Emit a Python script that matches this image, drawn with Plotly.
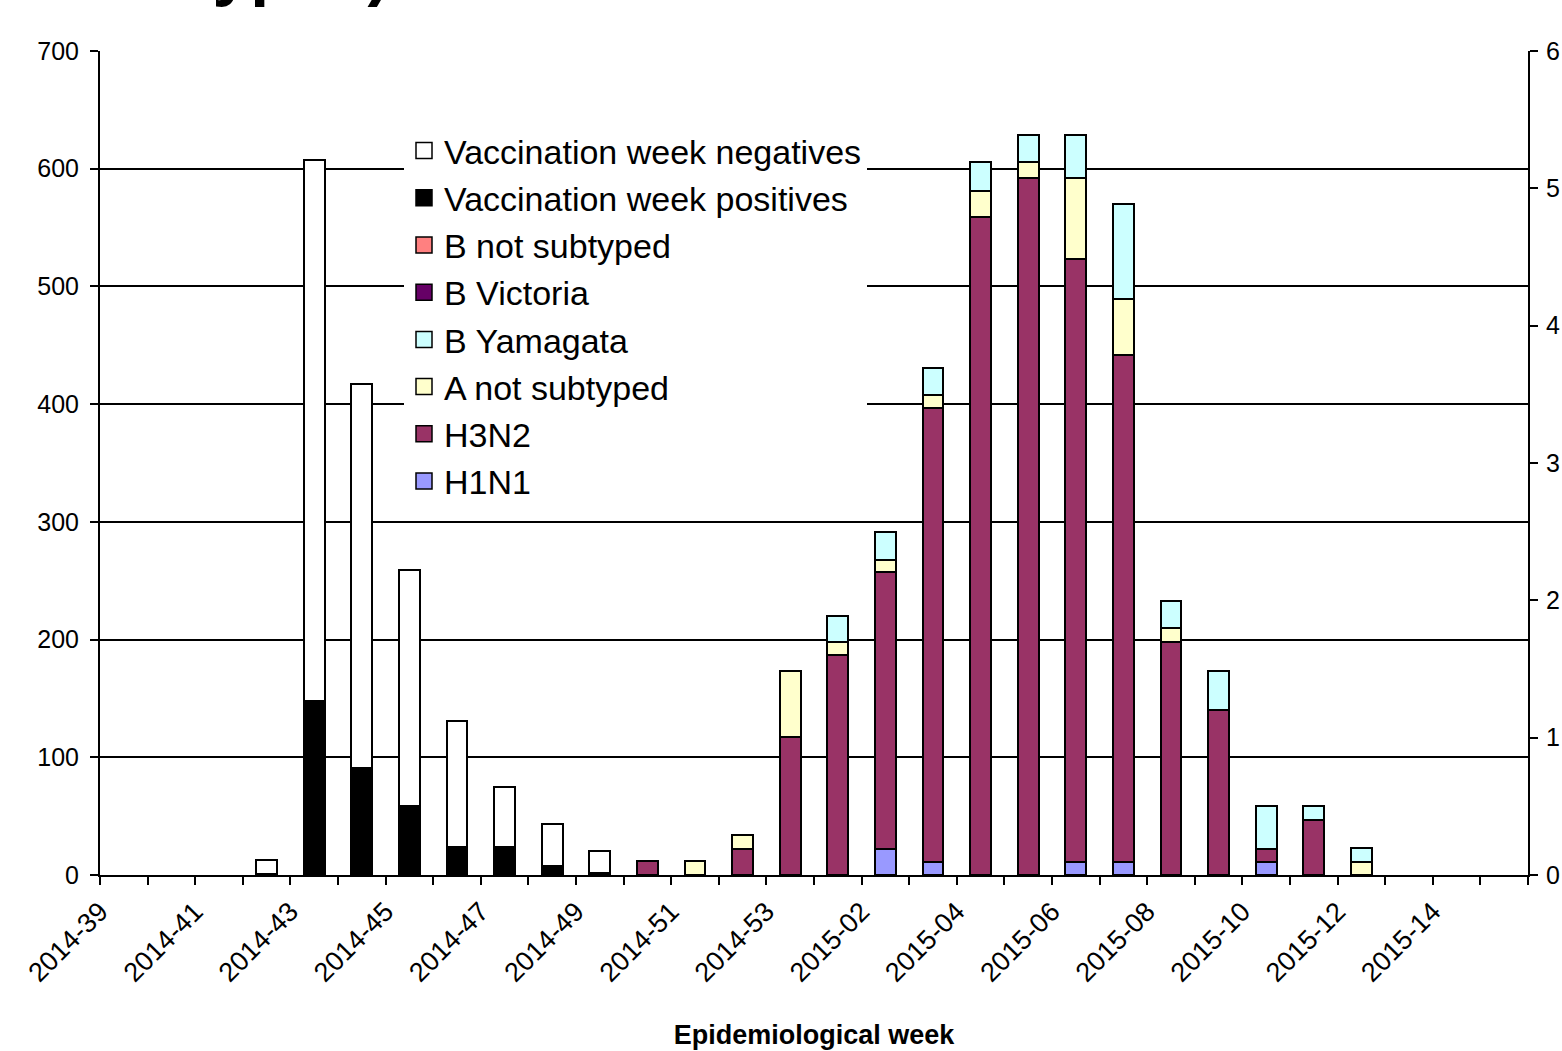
import plotly.graph_objects as go

weeks = ["2014-39", "2014-40", "2014-41", "2014-42", "2014-43", "2014-44", "2014-45",
         "2014-46", "2014-47", "2014-48", "2014-49", "2014-50", "2014-51", "2014-52",
         "2014-53", "2015-01", "2015-02", "2015-03", "2015-04", "2015-05", "2015-06",
         "2015-07", "2015-08", "2015-09", "2015-10", "2015-11", "2015-12", "2015-13",
         "2015-14", "2015-15"]

h1n1 = [0, 0, 0, 0, 0, 0, 0, 0, 0, 0, 0, 0, 0, 0, 0, 0, 22, 11, 0, 0, 11, 11, 0, 0, 11, 0, 0, 0, 0, 0]
h3n2 = [0, 0, 0, 0, 0, 0, 0, 0, 0, 0, 0, 12, 0, 22, 117, 187, 235, 386, 559, 592, 512, 431, 198, 140, 11, 47, 0, 0, 0, 0]
a_not_subtyped = [0, 0, 0, 0, 0, 0, 0, 0, 0, 0, 0, 0, 12, 12, 56, 11, 11, 11, 22, 14, 69, 47, 12, 0, 0, 0, 11, 0, 0, 0]
b_yamagata = [0, 0, 0, 0, 0, 0, 0, 0, 0, 0, 0, 0, 0, 0, 0, 22, 23, 23, 25, 23, 37, 81, 23, 33, 37, 12, 12, 0, 0, 0]
b_victoria = [0] * 30
b_not_subtyped = [0] * 30
vacc_positives = [0, 0, 0, 1, 148, 91, 59, 24, 24, 8, 2, 0, 0, 0, 0, 0, 0, 0, 0, 0, 0, 0, 0, 0, 0, 0, 0, 0, 0, 0]
vacc_negatives = [0, 0, 0, 12, 459, 326, 200, 107, 51, 35, 18, 0, 0, 0, 0, 0, 0, 0, 0, 0, 0, 0, 0, 0, 0, 0, 0, 0, 0, 0]

right_ticks = [0, 1, 2, 3, 4, 5, 6]

# stacking order bottom -> top
series = [
    ("H1N1", h1n1, "#9999FF"),
    ("H3N2", h3n2, "#993366"),
    ("A not subtyped", a_not_subtyped, "#FFFFCC"),
    ("B Yamagata", b_yamagata, "#CCFFFF"),
    ("B Victoria", b_victoria, "#660066"),
    ("B not subtyped", b_not_subtyped, "#FF8080"),
    ("Vaccination week positives", vacc_positives, "#000000"),
    ("Vaccination week negatives", vacc_negatives, "#FFFFFF"),
]

FONT = "Liberation Sans, Arial, sans-serif"
x = list(range(len(weeks)))

fig = go.Figure()
for name, vals, col in series:
    fig.add_trace(go.Bar(
        x=x, y=[v if v else None for v in vals], name=name, width=0.44,
        marker=dict(color=col, line=dict(color="black", width=2)),
        showlegend=False, customdata=weeks,
        hovertemplate="%{customdata}<br>" + name + ": %{y}<extra></extra>",
    ))

# legend entries (top -> bottom)
for name, vals, col in reversed(series):
    fig.add_trace(go.Scatter(
        x=[None], y=[None], mode="markers", name=name, legendgroup=name,
        marker=dict(symbol="square", size=16, color=col, line=dict(color="black", width=1.5)),
        showlegend=True,
    ))

# dummy trace for the secondary axis
fig.add_trace(go.Scatter(x=[None], y=[None], yaxis="y2", showlegend=False, hoverinfo="skip"))

tickvals = [i - 0.5 for i in range(len(weeks) + 1)]
ticktext = [weeks[i] if (i < len(weeks) and i % 2 == 0) else "" for i in range(len(weeks) + 1)]

fig.update_layout(
    width=1562, height=1051,
    margin=dict(l=100, r=34, t=51, b=176, autoexpand=False),
    paper_bgcolor="white", plot_bgcolor="white",
    barmode="stack",
    font=dict(family=FONT, color="black"),
    legend=dict(
        x=(404 - 100) / 1428, y=(875 - 122) / 824, xanchor="left", yanchor="top",
        bgcolor="white", borderwidth=0, font=dict(size=34, family=FONT, color="black"),
        traceorder="normal", itemsizing="trace", tracegroupgap=0,
        entrywidth=458, entrywidthmode="pixels",
    ),
    xaxis=dict(
        range=[-0.5, len(weeks) - 0.5], tickmode="array", tickvals=tickvals, ticktext=ticktext,
        tickangle=-45, ticks="outside", ticklen=8, tickwidth=2, tickcolor="black",
        showline=True, linecolor="black", linewidth=2, showgrid=False, zeroline=False,
        tickfont=dict(size=27, family=FONT, color="black"), automargin=False,
        title=dict(text="<b>Epidemiological week</b>", font=dict(size=27, family=FONT, color="black"), standoff=38),
    ),
    yaxis=dict(
        range=[0, 700], dtick=100, ticks="outside", ticklen=8, tickwidth=2, tickcolor="black",
        showline=True, linecolor="black", linewidth=2, showgrid=True, gridcolor="black", gridwidth=2,
        zeroline=False, tickfont=dict(size=25, family=FONT, color="black"), ticklabelstandoff=6,
        automargin=False,
    ),
    yaxis2=dict(
        overlaying="y", side="right", range=[0, 6], tickmode="array", tickvals=right_ticks,
        ticks="outside", ticklen=8, tickwidth=2, tickcolor="black",
        showline=True, linecolor="black", linewidth=2, showgrid=False, zeroline=False,
        tickfont=dict(size=25, family=FONT, color="black"), ticklabelstandoff=3, automargin=False,
    ),
    annotations=[dict(
        text="<b>subtypes)</b>", xref="paper", yref="paper",
        x=(392 - 100) / 1428, y=(875 - 9) / 824, xanchor="right", yanchor="bottom",
        showarrow=False, font=dict(size=68, family=FONT, color="black"),
    )],
)

fig.write_html("out.html", config={"displayModeBar": False},
               post_script="document.body.style.margin='0';document.body.style.overflow='hidden';")
